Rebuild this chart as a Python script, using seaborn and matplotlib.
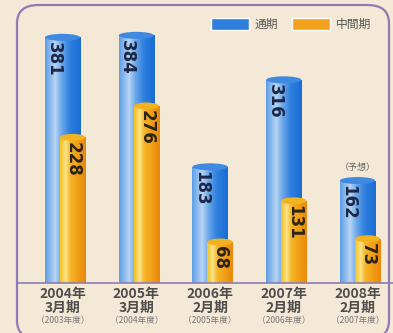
import numpy as np
import pandas as pd
import matplotlib
matplotlib.use("Agg")
import matplotlib.pyplot as plt
import seaborn as sns
from matplotlib.colors import LinearSegmentedColormap
from matplotlib.patches import FancyBboxPatch, Patch, Ellipse

# data
periods = ["2004年\n3月期", "2005年\n3月期", "2006年\n2月期", "2007年\n2月期", "2008年\n2月期"]
fiscal_years = ["（2003年度）", "（2004年度）", "（2005年度）", "（2006年度）", "（2007年度）"]
full_year = [381, 384, 183, 316, 162]
interim = [228, 276, 68, 131, 73]
series_names = ["通期", "中間期"]
forecast_note = "（予想）"

BG = "#f4e8d7"
BLUE = "#2f7fdc"
ORANGE = "#f2a21a"
FRAME = "#8d7cb4"

sns.set_theme(style="white")
plt.rcParams["font.family"] = ["Noto Sans CJK JP", "DejaVu Sans"]

df = pd.DataFrame({"period": periods, "full": full_year, "interim": interim})

W, H = 393, 333
fig = plt.figure(figsize=(W / 100, H / 100), dpi=100)
fig.patch.set_facecolor(BG)

# axes placed so baseline sits near the bottom frame
left, right, top, base = 17, 393, 5, 283
ax = fig.add_axes([left / W, (H - base) / H, (right - left) / W, (base - top) / H])
ax.set_facecolor("none")

px_per_unit = 0.654
step = 73.75
xmin = -(62.5 - left) / step
xmax = xmin + (right - left) / step
ymax = (base - top) / px_per_unit
cap = 7 / px_per_unit  # cylinder cap height in data units

sns.barplot(data=df, x="period", y="full", color=BLUE, width=0.475,
            errorbar=None, ax=ax, zorder=1)
sns.barplot(data=df, x="period", y="interim", color=ORANGE, width=0.34,
            errorbar=None, ax=ax, zorder=2)

n = len(periods)
blue_bars = ax.patches[:n]
orange_bars = ax.patches[n:]
for p in orange_bars:
    p.set_x(p.get_x() + 0.136)


def gradient(colors, stops):
    cmap = LinearSegmentedColormap.from_list("g", list(zip(stops, colors)))
    return cmap(np.linspace(0, 1, 64))[np.newaxis, :, :]


blue_grad = gradient(["#5e9fe6", "#b9d5f4", "#6ea9ea", "#2e7fdf", "#1a6cd3"],
                     [0, 0.28, 0.45, 0.7, 1])
orange_grad = gradient(["#f1c21d", "#fde38a", "#f4b526", "#f09a14", "#e8880c"],
                       [0, 0.22, 0.4, 0.75, 1])

for bars, grad, z, capc in [(blue_bars, blue_grad, 1.1, "#3f8ae0"),
                            (orange_bars, orange_grad, 2.1, "#f3b21f")]:
    for p in bars:
        x0, w, h = p.get_x(), p.get_width(), p.get_height()
        p.set_height(h - cap / 2)
        p.set_edgecolor("none")
        im = ax.imshow(grad, extent=[x0, x0 + w, 0, h], aspect="auto",
                       zorder=z, interpolation="bilinear")
        im.set_clip_path(p)
        ax.add_patch(Ellipse((x0 + w / 2, h - cap / 2), w, cap, facecolor=capc,
                             edgecolor="none", zorder=z + 0.05))

# value labels (vertical)
for p, v in zip(blue_bars, full_year):
    ax.text(p.get_x() + p.get_width() * 0.24, v - 12, str(v), rotation=270,
            ha="center", va="top", fontsize=12, color="#1d2748",
            family="DejaVu Sans", fontweight="bold", zorder=5)
for p, v in zip(orange_bars, interim):
    ax.text(p.get_x() + p.get_width() * 0.5, v - 12, str(v), rotation=270,
            ha="center", va="top", fontsize=12, color="#2b2418",
            family="DejaVu Sans", fontweight="bold", zorder=5)

last = blue_bars[-1]
ax.text(last.get_x() + last.get_width() / 2, full_year[-1] + 8, forecast_note,
        ha="center", va="bottom", fontsize=6.5, color="#666666", zorder=5)

ax.set_xlim(xmin, xmax)
ax.set_ylim(0, ymax)
ax.set_yticks([])
ax.set_xlabel("")
ax.set_ylabel("")
ax.tick_params(axis="x", length=0, pad=3)
ax.set_xticks(range(n))
ax.set_xticklabels(periods, fontsize=10, color="#4e4e4e", fontweight="bold",
                   linespacing=1.0)
for i, fy in enumerate(fiscal_years):
    ax.text(i, -0.135, fy, transform=ax.get_xaxis_transform(), ha="center",
            va="center", fontsize=6.2, color="#777777")

for s in ["left", "right", "top"]:
    ax.spines[s].set_visible(False)
ax.spines["bottom"].set_color(FRAME)
ax.spines["bottom"].set_linewidth(1.2)

# rounded frame (bottom edge falls just below the image)
frame = FancyBboxPatch((left / W, -6 / H), (389 - left) / W, (H + 6 - top) / H,
                       boxstyle="round,pad=0,rounding_size=0.055",
                       transform=fig.transFigure, facecolor="none",
                       edgecolor=FRAME, linewidth=1.6, zorder=10)
fig.patches.append(frame)

handles = [Patch(facecolor=BLUE), Patch(facecolor=ORANGE)]
fig.legend(handles, series_names, loc="upper right",
           bbox_to_anchor=(382 / W, 1 - 7 / H), ncol=2, frameon=False,
           fontsize=8.5, handlelength=3.2, handleheight=1.3, handletextpad=0.5,
           columnspacing=1.2, labelcolor="#555555")

fig.savefig("out.png", dpi=100, facecolor=BG)
